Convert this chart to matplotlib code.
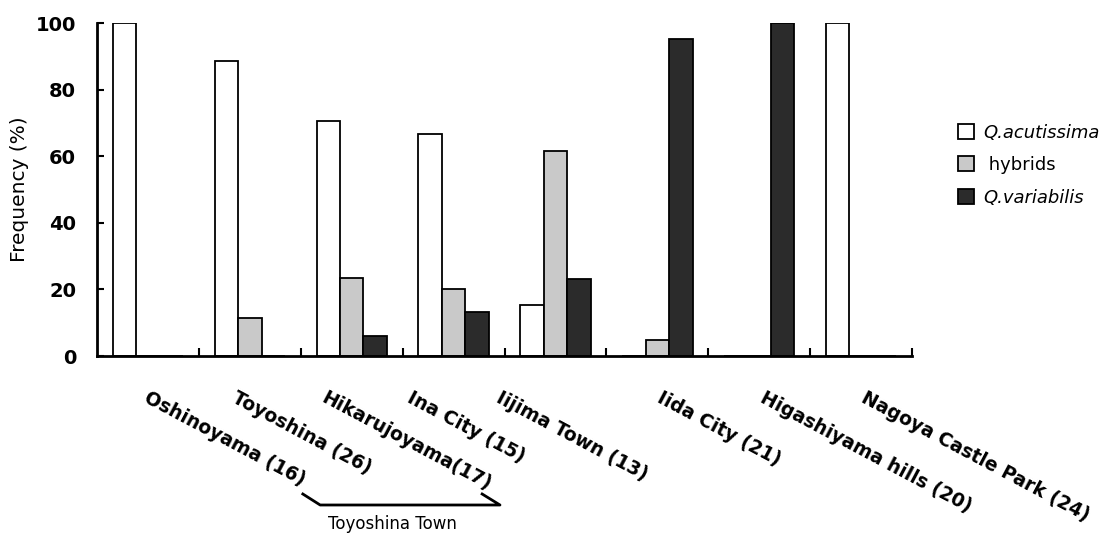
import numpy as np
import matplotlib.pyplot as plt
import matplotlib.transforms as mtransforms
from matplotlib.patches import Patch

# Data
sites = ['Oshinoyama (16)', 'Toyoshina (26)', 'Hikarujoyama(17)', 'Ina City (15)',
         'Iijima Town (13)', 'Iida City (21)', 'Higashiyama hills (20)',
         'Nagoya Castle Park (24)']
acutissima = [100, 88.5, 70.6, 66.7, 15.4, 0, 0, 100]
hybrids = [0, 11.5, 23.5, 20.0, 61.5, 4.8, 0, 0]
variabilis = [0, 0, 5.9, 13.3, 23.1, 95.2, 100, 0]
series_names = ['Q.acutissima', ' hybrids', 'Q.variabilis']

# label start offsets relative to group centre
label_shift = [0.02, -0.12, -0.24, -0.40, -0.53, 0.05, 0.07, 0.06]

fig = plt.figure(figsize=(11.18, 5.37), dpi=100)
ax = fig.add_axes([0.0868, 0.337, 0.729, 0.620])

x = np.arange(len(sites))
w = 0.23
colors = ['white', '#c9c9c9', '#2b2b2b']
for k, vals in enumerate([acutissima, hybrids, variabilis]):
    ax.bar(x + (k - 1) * w, vals, width=w, color=colors[k],
           edgecolor='black', linewidth=1.3)

ax.set_xlim(-0.5, len(sites) - 0.5)
ax.set_ylim(0, 100)
ax.spines['top'].set_visible(False)
ax.spines['right'].set_visible(False)
ax.spines['left'].set_linewidth(2)
ax.spines['bottom'].set_linewidth(2)

ax.set_yticks([0, 20, 40, 60, 80, 100])
ax.tick_params(axis='y', direction='in', length=5, width=1.5, labelsize=14, pad=15)
for t in ax.get_yticklabels():
    t.set_fontweight('bold')
ax.set_xticks(np.arange(0.5, len(sites), 1.0))
ax.set_xticklabels([])
ax.tick_params(axis='x', direction='in', length=6, width=1.5)

ax.set_ylabel('Frequency (%)', fontsize=14.5, labelpad=5)

# rotated site labels
trans = mtransforms.blended_transform_factory(ax.transData, fig.transFigure)
for i, name in enumerate(sites):
    ax.text(x[i] + label_shift[i], 1 - 388 / 537, name, transform=trans,
            rotation=-28, rotation_mode='anchor', ha='left', va='top',
            fontsize=13.5, fontweight='semibold')

# Toyoshina Town bracket
by = 1 - 505 / 537
bt = 1 - 494 / 537
ax.plot([1.52, 1.69, 3.455, 3.28], [bt, by, by, bt], color='black', lw=2,
        transform=trans, clip_on=False)
ax.text(2.4, 1 - 515 / 537, 'Toyoshina Town', transform=trans, ha='center',
        va='top', fontsize=12)

handles = [Patch(facecolor=c, edgecolor='black', linewidth=1.3) for c in colors]
leg = fig.legend(handles, series_names, loc='upper left',
                 bbox_to_anchor=(0.842, 0.80), frameon=False, fontsize=13,
                 handlelength=0.9, handleheight=0.9, handletextpad=0.5,
                 labelspacing=0.8)
leg.get_texts()[0].set_style('italic')
leg.get_texts()[2].set_style('italic')

fig.savefig('out.png', dpi=100)
